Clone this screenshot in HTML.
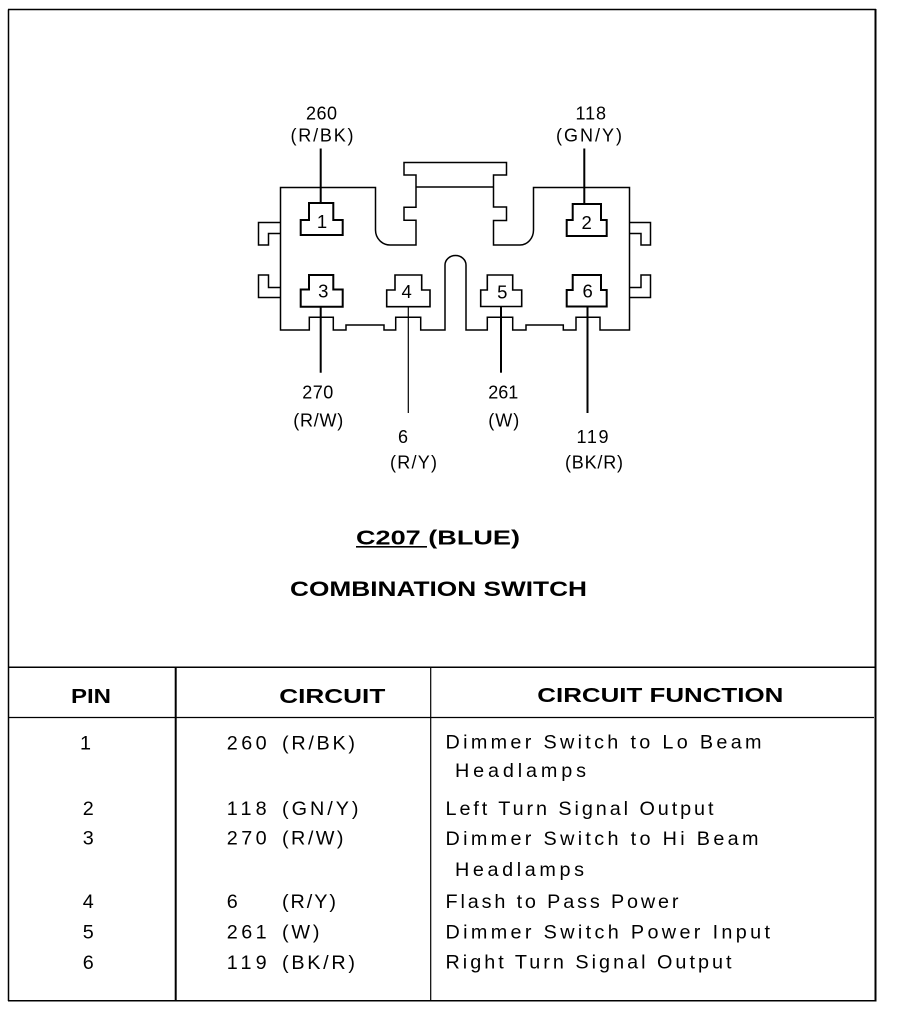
<!DOCTYPE html>
<html>
<head>
<meta charset="utf-8">
<style>
  html, body { margin: 0; padding: 0; background: #fff; }
  svg { display: block; }
  text { font-family: "Liberation Sans", sans-serif; fill: #000; }
  .lbl { font-size: 18px; }
  .pin { font-size: 18.5px; }
  .row { font-size: 19.8px; }
  .b { font-weight: bold; }
</style>
</head>
<body>
<svg width="897" height="1020" viewBox="0 0 897 1020" xmlns="http://www.w3.org/2000/svg">
  <rect x="0" y="0" width="897" height="1020" fill="#fff"/>

  <!-- Outer frame -->
  <line x1="8.5" y1="9.5" x2="8.5" y2="1001" stroke="#000" stroke-width="1.5"/>
  <line x1="8" y1="9.5" x2="876" y2="9.5" stroke="#000" stroke-width="1.5"/>
  <line x1="875.5" y1="9" x2="875.5" y2="1001.5" stroke="#000" stroke-width="2"/>
  <line x1="8" y1="1000.7" x2="876" y2="1000.7" stroke="#000" stroke-width="1.5"/>

  <!-- Connector shell -->
  <g fill="none" stroke="#000" stroke-width="1.5" stroke-linejoin="miter">
    <path d="M280.5,187.5 H375.5 V230 A14.5,15 0 0 0 390,245 H416 V220.3 H404 V207.2 H416 V175 H404 V162.5 H506.5 V175 H493.5 V207 H506.5 V220.5 H493.5 V245 H520 A13.5,15 0 0 0 533.5,230 V187.5 H629.5 V330 H600 V317.3 H576 V330 H563.3 V325 H526 V330 H512.7 V317.3 H487.3 V330 H466 V265 A10.5,9.5 0 0 0 445,265 V330 H420.7 V317.3 H395.7 V330 H384 V325 H346 V330 H333.3 V317.3 H309.3 V330 H280.5 Z"/>
    <line x1="416" y1="187" x2="493.5" y2="187"/>
    <!-- side tabs -->
    <path d="M280.5,222.5 H258.5 V245 H268.5 V233.5 H280.5"/>
    <path d="M280.5,287.5 H268.5 V275 H258.5 V297.5 H280.5"/>
    <path d="M629.5,222.5 H650.5 V245 H641 V233.5 H629.5"/>
    <path d="M629.5,287.5 H641 V275 H650.5 V297.5 H629.5"/>
  </g>

  <!-- Pin cavities -->
  <g fill="none" stroke="#000" stroke-width="2">
    <path d="M309,203 H333.3 V220 H342.7 V235 H300.7 V220 H309 Z"/>
    <path d="M572.7,204 H601 V220 H606.7 V236 H566.7 V220 H572.7 Z"/>
    <path d="M309,275 H333.3 V289.5 H342.7 V306.7 H300.7 V289.5 H309 Z"/>
    <path d="M572.7,275 H601 V290 H606.7 V306.5 H566.7 V290 H572.7 Z"/>
  </g>
  <g fill="none" stroke="#000" stroke-width="1.6">
    <path d="M395,275 H421.7 V290 H430 V306.7 H386.7 V290 H395 Z"/>
    <path d="M487.3,275 H512.7 V290 H521.7 V306.5 H480.7 V290 H487.3 Z"/>
  </g>

  <!-- Wires -->
  <g stroke="#000">
    <line x1="320.7" y1="148.5" x2="320.7" y2="203" stroke-width="2"/>
    <line x1="584.3" y1="148.5" x2="584.3" y2="204" stroke-width="2"/>
    <line x1="320.7" y1="306.7" x2="320.7" y2="372.7" stroke-width="2"/>
    <line x1="408.3" y1="306.7" x2="408.3" y2="413" stroke-width="1.2"/>
    <line x1="501" y1="306.5" x2="501" y2="372.7" stroke-width="2"/>
    <line x1="587.5" y1="306.5" x2="587.5" y2="413" stroke-width="2"/>
  </g>

  <!-- Pin numbers -->
  <text class="pin" x="322" y="228" text-anchor="middle">1</text>
  <text class="pin" x="586.7" y="229" text-anchor="middle">2</text>
  <text class="pin" x="323.3" y="297.5" text-anchor="middle">3</text>
  <text class="pin" x="406.7" y="298" text-anchor="middle">4</text>
  <text class="pin" x="502.3" y="298.5" text-anchor="middle">5</text>
  <text class="pin" x="587.7" y="297.5" text-anchor="middle">6</text>

  <!-- Wire labels -->
  <text class="lbl" x="306" y="119.3" textLength="31">260</text>
  <text class="lbl" x="290.5" y="141.7" textLength="63">(R/BK)</text>
  <text class="lbl" x="575.5" y="119.3" textLength="30.5">118</text>
  <text class="lbl" x="556" y="141.7" textLength="66">(GN/Y)</text>

  <text class="lbl" x="302.3" y="398.3" textLength="31">270</text>
  <text class="lbl" x="293.3" y="426.5" textLength="50">(R/W)</text>
  <text class="lbl" x="398" y="443" textLength="9">6</text>
  <text class="lbl" x="390" y="468.3" textLength="47">(R/Y)</text>
  <text class="lbl" x="488.3" y="398.3" textLength="30">261</text>
  <text class="lbl" x="488.3" y="426.5" textLength="31">(W)</text>
  <text class="lbl" x="576.5" y="443" textLength="32">119</text>
  <text class="lbl" x="565" y="468.3" textLength="58">(BK/R)</text>

  <!-- Title -->
  <text class="b" x="356" y="544.3" font-size="20" textLength="164" lengthAdjust="spacingAndGlyphs">C207 (BLUE)</text>
  <rect x="356" y="546" width="71" height="1.6" fill="#000"/>
  <text class="b" x="290" y="596" font-size="21" textLength="297" lengthAdjust="spacingAndGlyphs">COMBINATION SWITCH</text>

  <!-- Table lines -->
  <g stroke="#000">
    <line x1="8" y1="667.3" x2="876" y2="667.3" stroke-width="1.5"/>
    <line x1="8" y1="717.5" x2="874" y2="717.5" stroke-width="1.3"/>
    <line x1="175.7" y1="667" x2="175.7" y2="1001" stroke-width="2"/>
    <line x1="430.7" y1="667" x2="430.7" y2="1001" stroke-width="1.2"/>
  </g>

  <!-- Header -->
  <text class="b" x="71" y="703" font-size="20" textLength="40" lengthAdjust="spacingAndGlyphs">PIN</text>
  <text class="b" x="279.3" y="703" font-size="20" textLength="106" lengthAdjust="spacingAndGlyphs">CIRCUIT</text>
  <text class="b" x="537.3" y="702" font-size="20" textLength="246" lengthAdjust="spacingAndGlyphs">CIRCUIT FUNCTION</text>

  <!-- Pin column -->
  <text class="row" x="85.5" y="749.5" text-anchor="middle">1</text>
  <text class="row" x="88.3" y="815" text-anchor="middle">2</text>
  <text class="row" x="88.3" y="844.5" text-anchor="middle">3</text>
  <text class="row" x="88.3" y="908" text-anchor="middle">4</text>
  <text class="row" x="88.3" y="938.5" text-anchor="middle">5</text>
  <text class="row" x="88.3" y="969" text-anchor="middle">6</text>

  <!-- Circuit column -->
  <text class="row" x="226.7" y="749.5" textLength="40">260</text>
  <text class="row" x="282" y="749.5" textLength="73">(R/BK)</text>
  <text class="row" x="226.7" y="815" textLength="40">118</text>
  <text class="row" x="282" y="815" textLength="76.5">(GN/Y)</text>
  <text class="row" x="226.7" y="844.5" textLength="40">270</text>
  <text class="row" x="282" y="844.5" textLength="61.5">(R/W)</text>
  <text class="row" x="226.7" y="908" textLength="13">6</text>
  <text class="row" x="282" y="908" textLength="54">(R/Y)</text>
  <text class="row" x="226.7" y="938.5" textLength="40">261</text>
  <text class="row" x="282" y="938.5" textLength="37.5">(W)</text>
  <text class="row" x="226.7" y="969" textLength="40">119</text>
  <text class="row" x="282" y="969" textLength="73">(BK/R)</text>

  <!-- Function column -->
  <text class="row" x="445.5" y="748.5" textLength="316">Dimmer Switch to Lo Beam</text>
  <text class="row" x="455" y="777" textLength="131">Headlamps</text>
  <text class="row" x="445.5" y="815" textLength="268">Left Turn Signal Output</text>
  <text class="row" x="445.5" y="845" textLength="313">Dimmer Switch to Hi Beam</text>
  <text class="row" x="455" y="876" textLength="129">Headlamps</text>
  <text class="row" x="445.5" y="908" textLength="233">Flash to Pass Power</text>
  <text class="row" x="445.5" y="938.5" textLength="324.5">Dimmer Switch Power Input</text>
  <text class="row" x="445.5" y="968.5" textLength="286">Right Turn Signal Output</text>
</svg>
</body>
</html>
